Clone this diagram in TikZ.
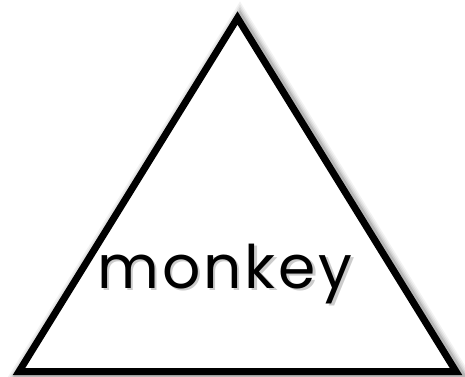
\documentclass[tikz,border=0pt]{standalone}
\usepackage{fontspec}
\setmainfont{Poppins}
\newfontfamily\labelfont[LetterSpace=5]{Poppins}
\tikzset{
  tri/.style={line width=7pt, draw=black, fill=white, line join=miter},
  trishadow/.style={line join=miter, draw=black},
  word/.style={font=\labelfont\fontsize{60}{60}\selectfont, inner sep=0pt, anchor=base}
}
\begin{document}
\begin{tikzpicture}[x=1pt,y=-1pt]
\useasboundingbox (0,0) rectangle (465,376);
\fill[white] (0,0) rectangle (465,376);
\coordinate (A) at (237.5,18);
\coordinate (L) at (19,371.5);
\coordinate (R) at (456,371.5);
\foreach \w/\o in {20/0.05,17/0.06,14/0.08,11/0.12}{
  \draw[trishadow, line width=\w pt, opacity=\o]
    ([shift={(2.5,2.5)}]A) -- ([shift={(2.5,2.5)}]L) -- ([shift={(2.5,2.5)}]R) -- cycle;
}
\draw[tri] (A) -- (L) -- (R) -- cycle;
\coordinate (T) at (225,288);
\node[word, text=black, opacity=0.2] (labelshadow) at ([shift={(2.5,2.5)}]T) {monkey};
\node[word] (label) at (T) {monkey};
\end{tikzpicture}
\end{document}
